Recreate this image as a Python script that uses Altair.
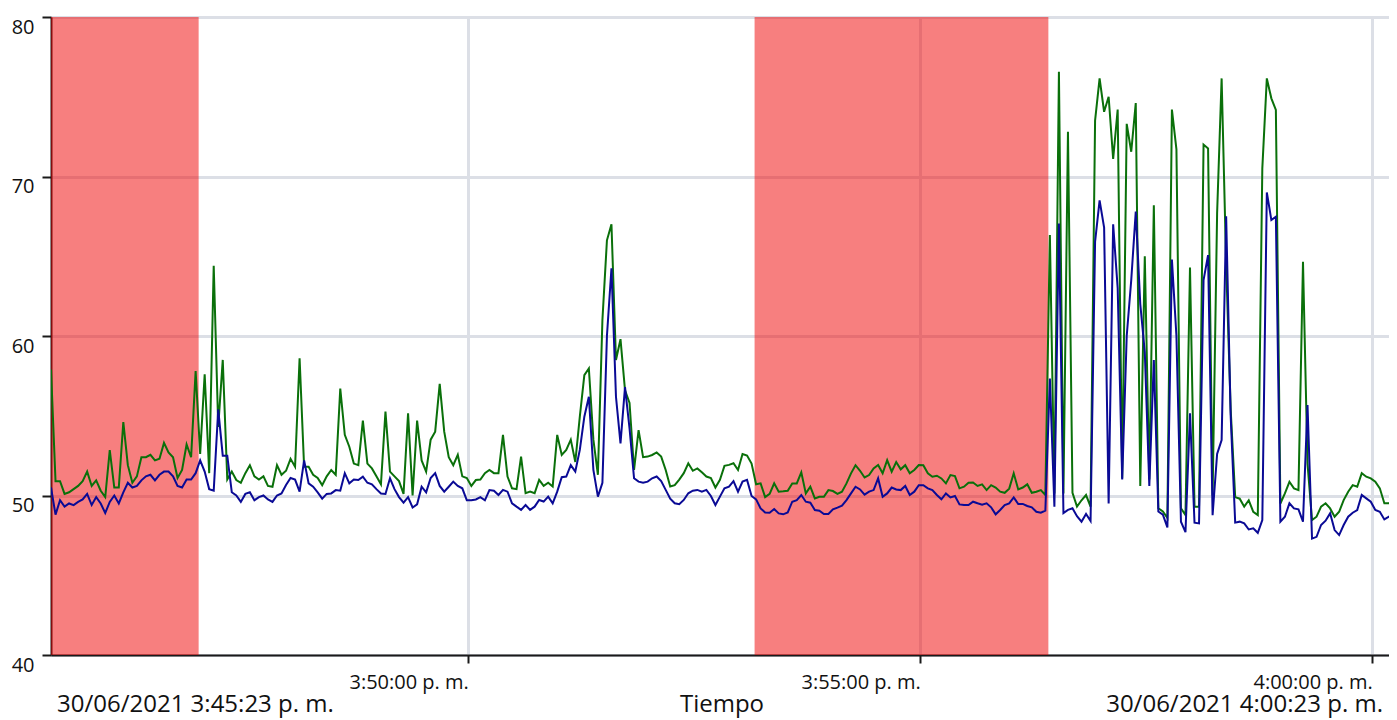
import altair as alt
import pandas as pd

# ---------------- data ----------------
start_time = "2021-06-30 15:45:23"
step_seconds = 3

green_values = [
    57.9, 50.9, 50.9, 50.1, 50.2, 50.4, 50.6, 50.9, 51.5, 50.6,
    50.95, 50.3, 49.9, 52.85, 50.5, 50.5, 54.6, 51.9, 50.8, 51.2,
    52.4, 52.4, 52.55, 52.2, 52.3, 53.3, 52.7, 52.4, 51.1, 51.6,
    53.2, 52.4, 57.8, 52.6, 57.6, 51.4, 64.4, 54.3, 58.5, 51.0,
    51.5, 50.97, 50.8, 51.4, 51.9, 51.2, 51.0, 51.2, 50.6, 50.55,
    51.9, 51.3, 51.55, 52.3, 51.8, 58.6, 51.8, 51.8, 51.3, 51.1,
    50.65, 51.2, 51.6, 51.3, 56.7, 53.8, 53.06, 52.0, 51.9, 54.7,
    52.0, 51.7, 51.2, 50.7, 55.26, 51.5, 51.2, 50.9, 50.1, 55.15,
    50.0, 54.7, 52.2, 51.5, 53.5, 54.0, 57.0, 54.0, 52.4, 51.9,
    52.55, 51.2, 51.1, 50.6, 50.97, 51.0, 51.4, 51.6, 51.4, 51.4,
    53.8, 51.19, 50.45, 50.4, 52.44, 50.14, 50.24, 50.14, 50.98, 50.6,
    50.8, 50.56, 53.8, 52.54, 52.86, 53.5, 52.1, 54.94, 57.55, 57.97,
    53.5, 51.3, 61.0, 66.0, 67.0, 58.5, 59.8, 56.6, 55.8, 51.6,
    54.1, 52.4, 52.44, 52.54, 52.7, 52.44, 51.6, 50.56, 50.65, 51.0,
    51.4, 52.02, 51.55, 51.7, 51.45, 51.19, 51.1, 50.5, 50.98, 51.86,
    51.92, 52.02, 51.6, 52.6, 52.5, 52.0, 50.7, 50.76, 49.9, 50.1,
    50.76, 50.24, 50.26, 50.3, 50.76, 50.76, 51.45, 50.13, 50.55, 49.82,
    49.92, 49.92, 50.34, 50.28, 50.1, 50.24, 50.76, 51.39, 51.9, 51.55,
    51.13, 51.28, 51.7, 51.91, 51.39, 52.22, 51.49, 52.1, 51.64, 51.9,
    51.39, 51.6, 51.91, 51.9, 51.39, 51.18, 51.24, 51.07, 50.76, 51.28,
    51.22, 50.45, 50.55, 50.8, 50.82, 50.6, 50.7, 50.34, 50.65, 50.5,
    50.24, 50.17, 50.43, 51.39, 50.38, 50.5, 50.7, 50.17, 50.24, 50.34,
    50.03, 66.33, 50.13, 76.57, 50.13, 72.8, 50.17, 49.3, 49.7, 50.03,
    49.3, 73.5, 76.15, 74.06, 75.0, 71.1, 74.2, 51.07, 73.3, 71.55,
    74.6, 50.6, 65.0, 51.0, 68.2, 49.2, 49.0, 48.6, 74.2, 71.7,
    49.2, 48.77, 64.3, 49.3, 49.3, 72.0, 71.76, 50.0, 67.7, 76.15,
    64.55, 55.4, 49.9, 49.8, 49.3, 49.7, 48.98, 48.77, 70.5, 76.15,
    74.9, 74.17, 49.5, 50.13, 50.86, 50.45, 50.34, 64.66, 52.0, 48.46,
    48.67, 49.3, 49.51, 49.19, 48.67, 48.98, 49.71, 50.24, 50.65, 50.55,
    51.4, 51.18, 51.07, 50.86, 50.45, 49.51, 49.51, 49.71, 49.9,
]

blue_values = [
    50.5, 48.8, 49.7, 49.3, 49.5, 49.4, 49.6, 49.75, 50.1, 49.4,
    49.9, 49.5, 48.9, 49.6, 50.0, 49.5, 50.2, 50.8, 50.5, 50.6,
    50.95, 51.2, 51.3, 50.95, 51.3, 51.5, 51.5, 51.2, 50.6, 50.5,
    51.0, 51.0, 51.4, 52.2, 51.5, 50.4, 50.3, 55.4, 52.5, 52.5,
    50.2, 50.0, 49.6, 50.1, 50.2, 49.7, 49.9, 50.0, 49.75, 49.6,
    50.0, 50.13, 50.66, 51.1, 51.0, 50.24, 52.2, 50.76, 50.55, 50.2,
    49.8, 50.1, 50.13, 50.34, 50.3, 51.4, 50.76, 51.0, 50.97, 51.18,
    50.8, 50.7, 50.4, 50.13, 50.1, 51.08, 50.4, 49.9, 49.55, 49.9,
    49.25, 49.45, 50.55, 50.2, 51.1, 51.4, 50.6, 50.24, 50.55, 50.87,
    50.6, 50.45, 49.7, 49.7, 49.75, 49.9, 49.7, 50.34, 50.3, 50.03,
    50.35, 50.24, 49.51, 49.3, 49.1, 49.4, 49.1, 49.3, 49.72, 49.62,
    49.93, 49.51, 50.24, 51.15, 51.19, 51.9, 51.5, 52.86, 54.94, 56.19,
    51.61, 49.93, 50.8, 60.0, 64.25, 56.19, 53.27, 56.8, 54.2, 51.08,
    50.87, 50.8, 50.87, 51.08, 51.19, 50.9, 50.35, 49.8, 49.51, 49.45,
    49.72, 50.14, 50.3, 50.35, 50.24, 50.35, 49.97, 49.4, 49.93, 50.45,
    50.56, 50.9, 50.24, 50.87, 50.98, 49.97, 49.76, 49.19, 48.94, 48.92,
    49.15, 48.88, 48.82, 48.94, 49.61, 49.71, 50.03, 49.61, 49.55, 49.09,
    49.05, 48.84, 48.84, 49.13, 49.24, 49.36, 49.71, 50.13, 50.55, 50.38,
    50.05, 50.24, 50.34, 51.07, 49.92, 50.13, 50.5, 50.38, 50.34, 50.6,
    50.03, 50.24, 50.65, 50.65, 50.45, 50.34, 50.03, 49.76, 50.13, 49.88,
    49.97, 49.44, 49.4, 49.4, 49.61, 49.51, 49.42, 49.51, 49.26, 48.82,
    49.09, 49.4, 49.51, 49.88, 49.47, 49.47, 49.34, 49.26, 48.98, 48.92,
    49.05, 57.34, 49.3, 67.06, 48.9, 49.1, 49.2, 48.7, 48.36, 48.84,
    48.4, 65.9, 68.5, 66.8, 49.5, 67.0, 63.0, 51.0, 60.0, 63.5,
    67.8, 62.0, 59.0, 50.6, 58.5, 49.0, 48.8, 48.0, 64.8, 60.0,
    48.36, 47.7, 55.15, 48.3, 48.25, 63.5, 65.07, 48.77, 52.6, 53.48,
    67.5, 55.0, 48.3, 48.36, 48.25, 47.87, 47.94, 47.66, 48.46, 69.0,
    67.27, 67.48, 48.36, 48.67, 49.51, 49.19, 49.13, 48.36, 55.67, 47.3,
    47.41, 48.15, 48.42, 48.88, 47.83, 47.52, 48.15, 48.67, 48.92, 49.09,
    50.03, 49.82, 49.61, 49.09, 48.98, 48.5, 48.67, 48.46, 48.36,
]

band_starts = ["2021-06-30T15:45:23", "2021-06-30T15:53:10"]
band_ends = ["2021-06-30T15:47:01", "2021-06-30T15:56:25"]

y_ticks = [40, 50, 60, 70, 80]
x_tick_times = [(15, 50, 0), (15, 55, 0), (16, 0, 0)]
bottom_labels = ["30/06/2021 3:45:23 p. m.", "Tiempo", "30/06/2021 4:00:23 p. m."]

# ---------------- tables ----------------
n = len(green_values)
assert n == len(blue_values)
times = pd.date_range(start_time, periods=n, freq=f"{step_seconds}s").strftime("%Y-%m-%dT%H:%M:%S")
df_green = pd.DataFrame({"t": times, "v": green_values})
df_blue = pd.DataFrame({"t": times, "v": blue_values})
df_bands = pd.DataFrame({"start": band_starts, "end": band_ends})

W, H = 1346, 638
FONT = "Open Sans"
GRID = "#DCDFE6"
AXC = "#1a1a1a"


def dt(h, m, s, ms=0):
    return alt.DateTime(year=2021, month=6, date=30, hours=h, minutes=m, seconds=s, milliseconds=ms)


x_scale = alt.Scale(domain=[dt(15, 45, 23), dt(16, 0, 16, 400)])
y_scale = alt.Scale(domain=[40, 80], nice=False, zero=False)

x_axis = alt.Axis(
    values=[dt(h, m, s) for h, m, s in x_tick_times],
    labelExpr="timeFormat(datum.value, '%-I:%M:%S') + ' p. m.'",
    labelAlign="right", labelBaseline="top", labelFlush=False, labelOverlap=False,
    labelPadding=9, labelFontSize=20, labelFont=FONT, labelColor="#111",
    tickSize=8, tickWidth=2, tickColor=AXC, domainColor=AXC, domainWidth=2,
    grid=True, gridColor=GRID, gridWidth=3, title=None,
)
y_axis = alt.Axis(
    values=y_ticks, labelBaseline="top", labelFlush=False, labelOverlap=False,
    labelPadding=8, labelFontSize=20, labelFont=FONT, labelColor="#111",
    tickSize=9, tickWidth=2, tickColor=AXC, domainColor=AXC, domainWidth=2,
    grid=True, gridColor=GRID, gridWidth=3, title=None,
)

bands = alt.Chart(df_bands).mark_rect(color="#F00000", opacity=0.5, clip=True).encode(
    x=alt.X("start:T", scale=x_scale, axis=x_axis),
    x2="end:T",
    y=alt.datum(80, scale=y_scale, axis=y_axis, type="quantitative"),
    y2=alt.datum(40),
)

green_line = alt.Chart(df_green).mark_line(color="#0a700a", strokeWidth=2, clip=True).encode(
    x=alt.X("t:T", scale=x_scale, axis=x_axis),
    y=alt.Y("v:Q", scale=y_scale, axis=y_axis),
)
blue_line = alt.Chart(df_blue).mark_line(color="#0a0a95", strokeWidth=2, clip=True).encode(
    x=alt.X("t:T", scale=x_scale, axis=x_axis),
    y=alt.Y("v:Q", scale=y_scale, axis=y_axis),
)


def label(text, align, xpos):
    return alt.Chart(pd.DataFrame({"txt": [text]})).mark_text(
        align=align, baseline="alphabetic", font=FONT, fontSize=24, color="#111"
    ).encode(text="txt:N", x=alt.value(xpos), y=alt.value(H + 57))


texts = [
    label(bottom_labels[0], "left", 6),
    label(bottom_labels[1], "center", 671),
    label(bottom_labels[2], "right", 1332),
]

# svg must stay within the page body (1381 px): the plot runs past its right edge
chart = alt.layer(bands, green_line, blue_line, *texts).properties(
    width=W, height=H,
    autosize=alt.AutoSizeParams(type="none"),
    padding={"left": 43, "top": 9, "right": -8, "bottom": 65},
).configure_view(strokeWidth=0).configure(background="white")

chart.save("out.html", embed_options={"renderer": "svg", "actions": False})
